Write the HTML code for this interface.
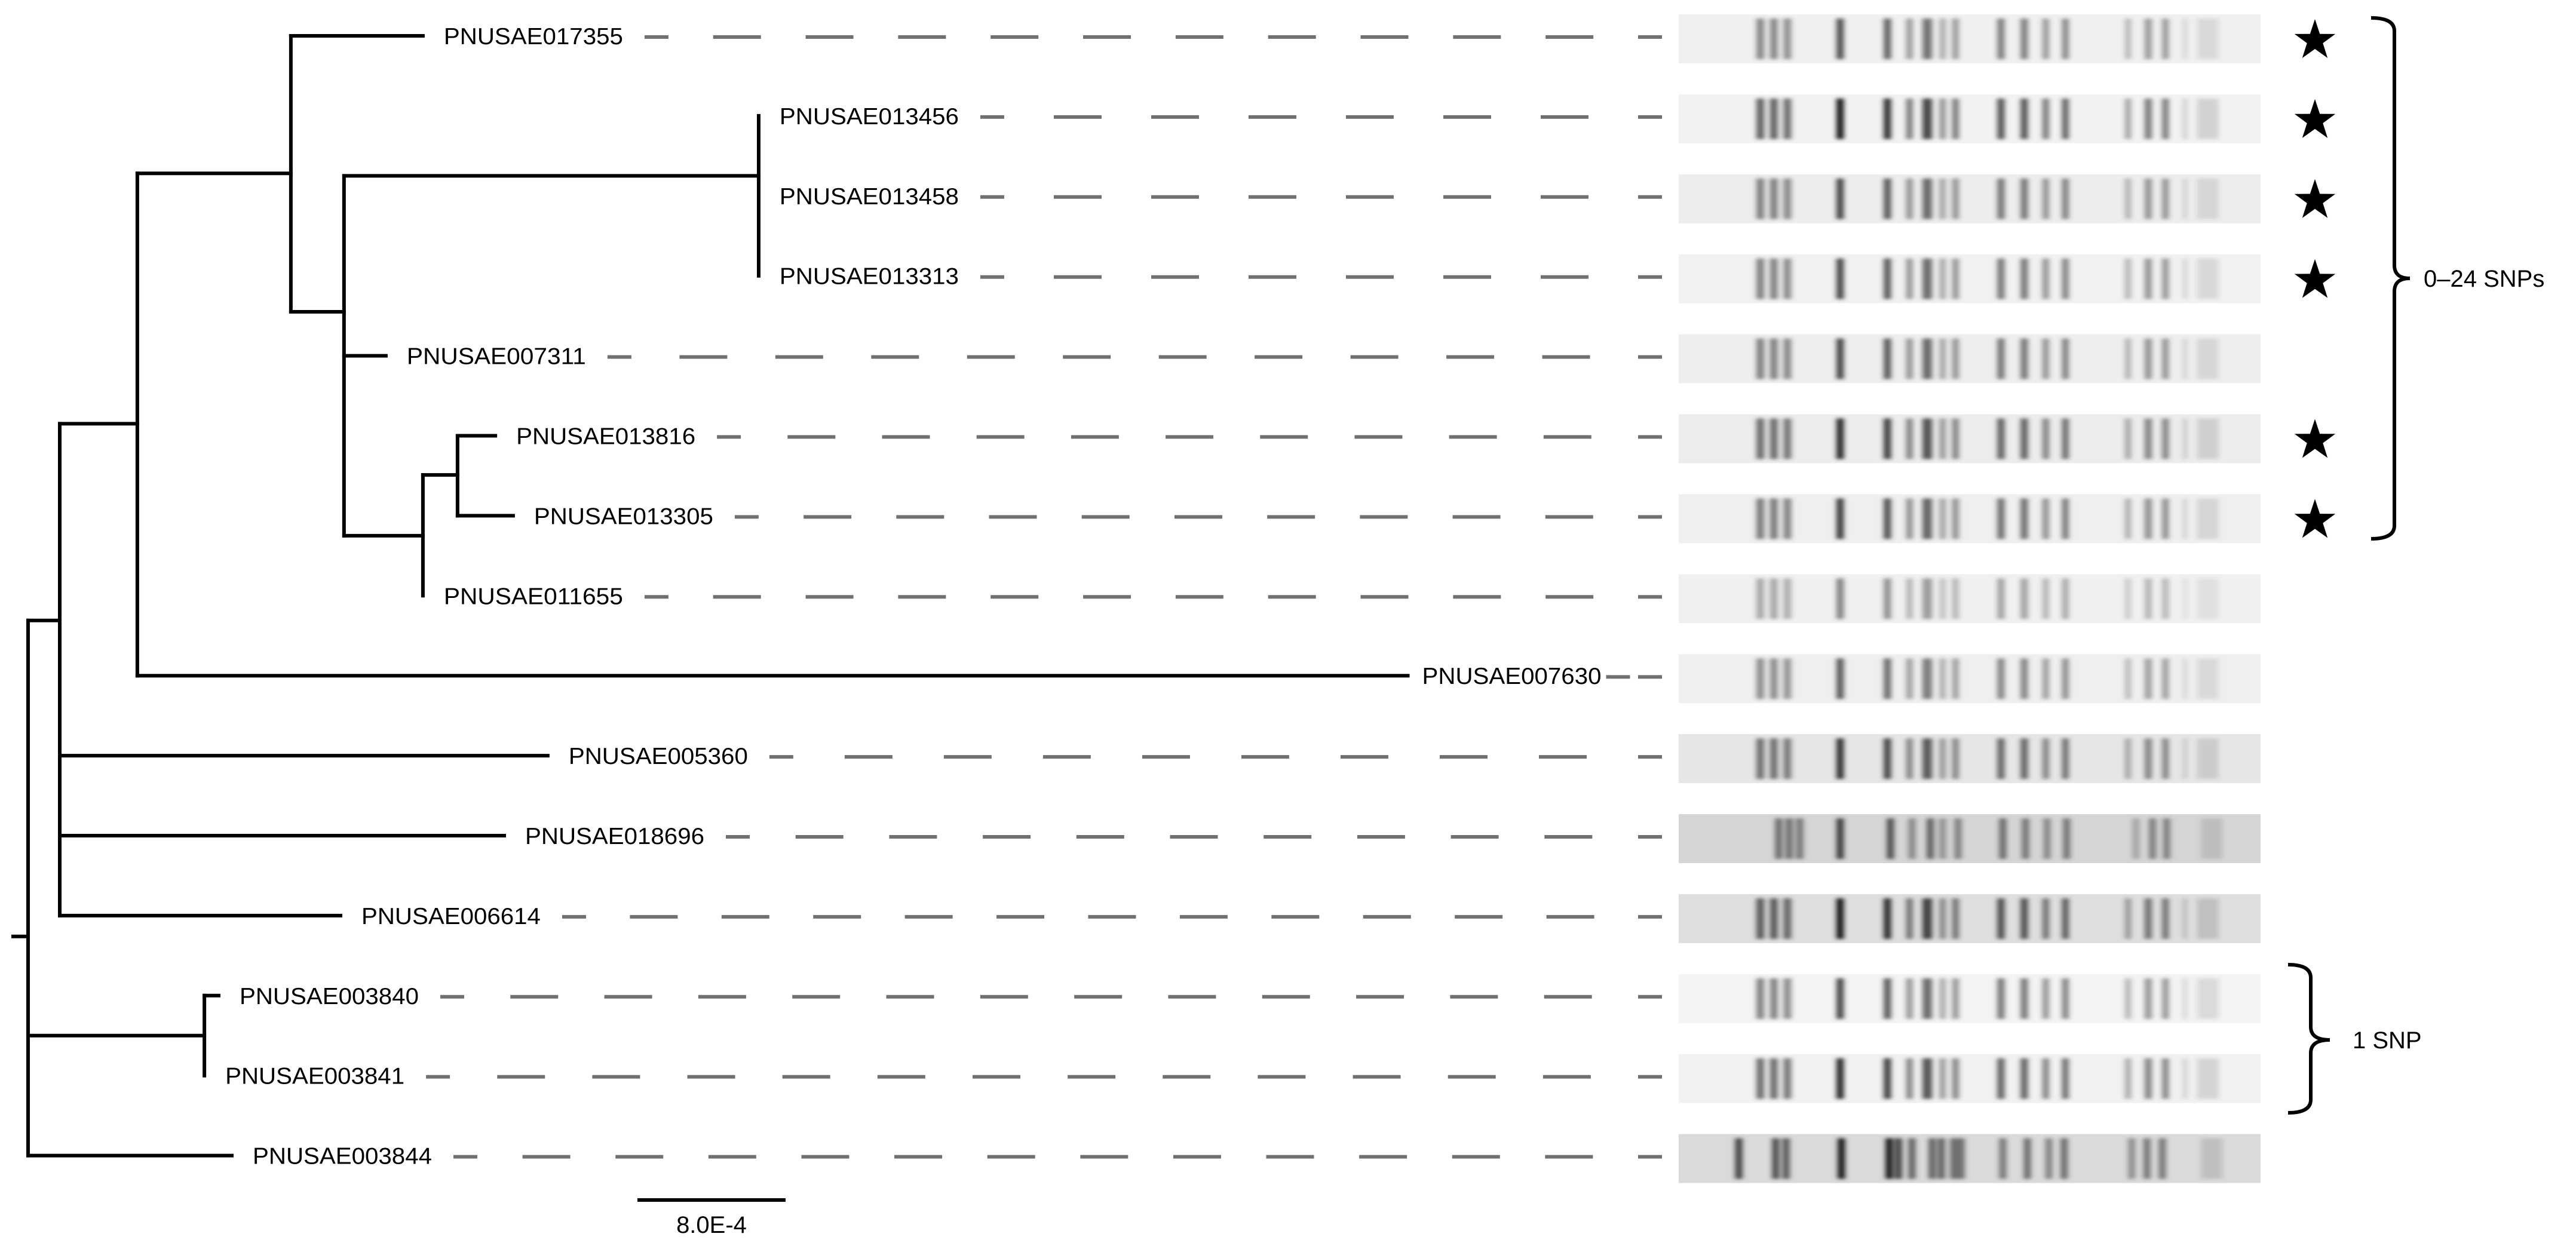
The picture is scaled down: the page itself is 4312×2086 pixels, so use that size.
<!DOCTYPE html>
<html><head><meta charset="utf-8"><title>Phylogeny with PFGE patterns</title>
<style>html,body{margin:0;padding:0;background:#fff;}svg{display:block;font-family:"Liberation Sans",Arial,sans-serif;}</style>
</head><body>
<svg id="chart" width="4312" height="2086" viewBox="0 0 4312 2086" xmlns="http://www.w3.org/2000/svg">
<defs><filter id="blur" x="-50%" y="-10%" width="200%" height="120%"><feGaussianBlur stdDeviation="4.5 3"/></filter></defs>
<g id="tree"></g>
<g id="dashes"></g>
<g id="gels"></g>
<g id="marks"></g>
</svg>
<script>
// ---- data ----
const leafNames = ['PNUSAE017355','PNUSAE013456','PNUSAE013458','PNUSAE013313','PNUSAE007311','PNUSAE013816','PNUSAE013305','PNUSAE011655','PNUSAE007630','PNUSAE005360','PNUSAE018696','PNUSAE006614','PNUSAE003840','PNUSAE003841','PNUSAE003844'];
const leafDepth = [21.32,39.45,39.45,39.45,19.32,25.23,26.19,21.32,74.5,28.06,25.71,16.87,10.29,9.52,11.0]; // units of 1e-4 subs/site
const leafParent = [4,6,6,6,5,8,8,7,3,1,1,1,2,2,0];
const nodeNames = ['root','n1','n2','n3','n4','n5','n6','n7','n8'];
const nodeDepth = [0,1.71,9.52,5.90,14.19,17.06,39.45,21.32,23.19];
const nodeRow = [11.26,7.31,12.50,4.85,1.72,3.45,1.75,6.25,5.49];
const nodeParent = [-1,0,0,1,3,4,5,5,7];
const starred = [1,1,1,1,0,1,1,0,0,0,0,0,0,0,0];
const gelBg = ['#f0f0f0','#f2f2f2','#ededed','#f1f1f1','#eeeeee','#ececec','#efefef','#f0f0f0','#efefef','#e6e6e6','#d5d5d5','#dedede','#f3f3f3','#f1f1f1','#dadada'];
const gelStrength = [0.8,1.1,0.85,0.85,0.85,1.0,0.9,0.55,0.75,0.95,0.9,1.1,0.85,1.0,1.0];
const bandPos = [133,155,177,263,340,376,405,430,451,525,563,598,630,732,765,793,825,862];
const bandWidth = [13,13,13,12,12,11,16,11,11,12,12,11,11,10,12,11,7,36];
const bandAlpha = [0.55,0.55,0.5,0.85,0.75,0.45,0.65,0.35,0.45,0.6,0.6,0.45,0.55,0.3,0.45,0.45,0.15,0.12];
const bandPos14 = [98,158,175,265,343,358,380,413,428,448,460,528,568,603,628,738,763,788,868];
const bandAlpha14 = [0.7,0.65,0.6,0.9,0.9,0.7,0.55,0.55,0.55,0.5,0.5,0.45,0.5,0.4,0.5,0.35,0.45,0.45,0.12];
const bandPos10 = [163,180,197,263,345,380,410,430,455,528,565,600,632,745,772,795,868];
const bandAlpha10 = [0.55,0.55,0.5,0.8,0.7,0.4,0.6,0.35,0.45,0.55,0.5,0.4,0.5,0.25,0.45,0.45,0.12];

// ---- scales ----
const X0 = 47, PXU = 31;
function x(d){ return X0 + d*PXU; }
function y(r){ return 60 + r*133.9; }
const GEL_X = 2810, GEL_W = 974, GEL_H = 82, DASH_END = 2782;
function gx(p){ return GEL_X + p*GEL_W/948; }

const NS='http://www.w3.org/2000/svg';
function mk(tag, attrs, parent){ const e=document.createElementNS(NS,tag); for(const k in attrs) e.setAttribute(k,attrs[k]); parent.appendChild(e); return e; }
const tree=document.getElementById('tree'), dashes=document.getElementById('dashes'), gels=document.getElementById('gels'), marks=document.getElementById('marks');

function hline(x1,x2,yy,name){ const l=mk('line',{x1:x1,x2:x2,y1:yy,y2:yy,stroke:'#000','stroke-width':6,'stroke-linecap':'square'},tree);
  
   }
const childRows = nodeNames.map(()=>[]);
for(let i=0;i<nodeNames.length;i++){
  if(nodeParent[i]>=0){ hline(x(nodeDepth[nodeParent[i]]), x(nodeDepth[i]), y(nodeRow[i]), 'branch-'+nodeNames[i]); childRows[nodeParent[i]].push(nodeRow[i]); }
}
for(let i=0;i<leafNames.length;i++){
  childRows[leafParent[i]].push(i);
  if(leafDepth[i]>nodeDepth[leafParent[i]]) hline(x(nodeDepth[leafParent[i]]), x(leafDepth[i]), y(i), 'branch-'+leafNames[i].toLowerCase());
}
for(let i=0;i<nodeNames.length;i++){
  const rs=childRows[i].concat([nodeRow[i]]);
  const v=mk('line',{x1:x(nodeDepth[i]),x2:x(nodeDepth[i]),y1:y(Math.min(...rs)),y2:y(Math.max(...rs)),stroke:'#000','stroke-width':6,'stroke-linecap':'square'},tree);
  
  
}
hline(22, x(0), y(nodeRow[0]), 'root-stub');

const LABEL_W = 300;
for(let i=0;i<leafNames.length;i++){
  const ly=y(i);
  const lx=x(leafDepth[i]) + (i===8?24:35);
  const t=mk('text',{x:lx,y:ly+14,'font-size':39,textLength:LABEL_W,lengthAdjust:'spacingAndGlyphs',fill:'#000'},tree);
  t.textContent=leafNames[i];
  
  
  const S = lx + LABEL_W + (i===8?8:36);
  const L = DASH_END - S;
  const n = Math.round(L/158);
  if(n<1){
    const d=mk('line',{x1:S,x2:DASH_END,y1:ly+2,y2:ly+2,stroke:'#707070','stroke-width':6},dashes);
    
    
  } else {
    const p=L/n;
    for(let k=0;k<=n;k++){
      const c=S+k*p; const a=Math.max(S,c-40), b=Math.min(DASH_END,c+40);
      const d=mk('line',{x1:a,x2:b,y1:ly+2,y2:ly+2,stroke:'#707070','stroke-width':6},dashes);
      
      
    }
  }
  const gy = ly + 5 - GEL_H/2;
  const g=mk('g',{},gels);
  
  
  mk('rect',{x:GEL_X,y:gy,width:GEL_W,height:GEL_H,fill:gelBg[i]},g);
  let P=bandPos, A=bandAlpha;
  if(i===14){P=bandPos14;A=bandAlpha14;} else if(i===10){P=bandPos10;A=bandAlpha10;}
  const bg=mk('g',{filter:'url(#blur)'},g);
  for(let k=0;k<P.length;k++){
    const w=(i===14||i===10)?(k===P.length-1?36:12):bandWidth[k];
    const b=mk('rect',{x:gx(P[k])-w/2,y:gy+7,width:w,height:GEL_H-14,fill:'#000','fill-opacity':Math.min(0.95,A[k]*gelStrength[i])},bg);
    
    
  }
  if(starred[i]){
    const cx=3875, cy=ly+8, R=36, r=14; let pts=[];
    for(let k=0;k<10;k++){ const ang=-Math.PI/2+k*Math.PI/5; const rr=k%2?r:R; pts.push((cx+rr*Math.cos(ang)).toFixed(1)+','+(cy+rr*Math.sin(ang)).toFixed(1)); }
    const s=mk('polygon',{points:pts.join(' '),fill:'#000'},marks);
    
    
  }
}

function brace(x0,x1,xt,top,bot,mid,name){
  const r=22;
  const d=`M${x0},${top} Q${x1},${top} ${x1},${top+r} L${x1},${mid-r} Q${x1},${mid} ${xt},${mid} Q${x1},${mid} ${x1},${mid+r} L${x1},${bot-r} Q${x1},${bot} ${x0},${bot}`;
  const p=mk('path',{d:d,fill:'none',stroke:'#000','stroke-width':6},marks);
  
  
}
brace(3969,4008,4034,30,902,466,'brace-0-24-snps');
brace(3830,3868,3900,1615,1863,1741,'brace-1-snp');
const t1=mk('text',{x:4057,y:480,'font-size':40,fill:'#000'},marks); t1.textContent='0–24 SNPs';


const t2=mk('text',{x:3938,y:1755,'font-size':40,fill:'#000'},marks); t2.textContent='1 SNP';



const SB=8;
const sb=mk('line',{x1:1067,x2:1067+SB*PXU,y1:2009,y2:2009,stroke:'#000','stroke-width':6},marks);


const st=mk('text',{x:1067+SB*PXU/2,y:2064,'font-size':40,'text-anchor':'middle',fill:'#000'},marks); st.textContent='8.0E-4';


</script>
</body></html>
